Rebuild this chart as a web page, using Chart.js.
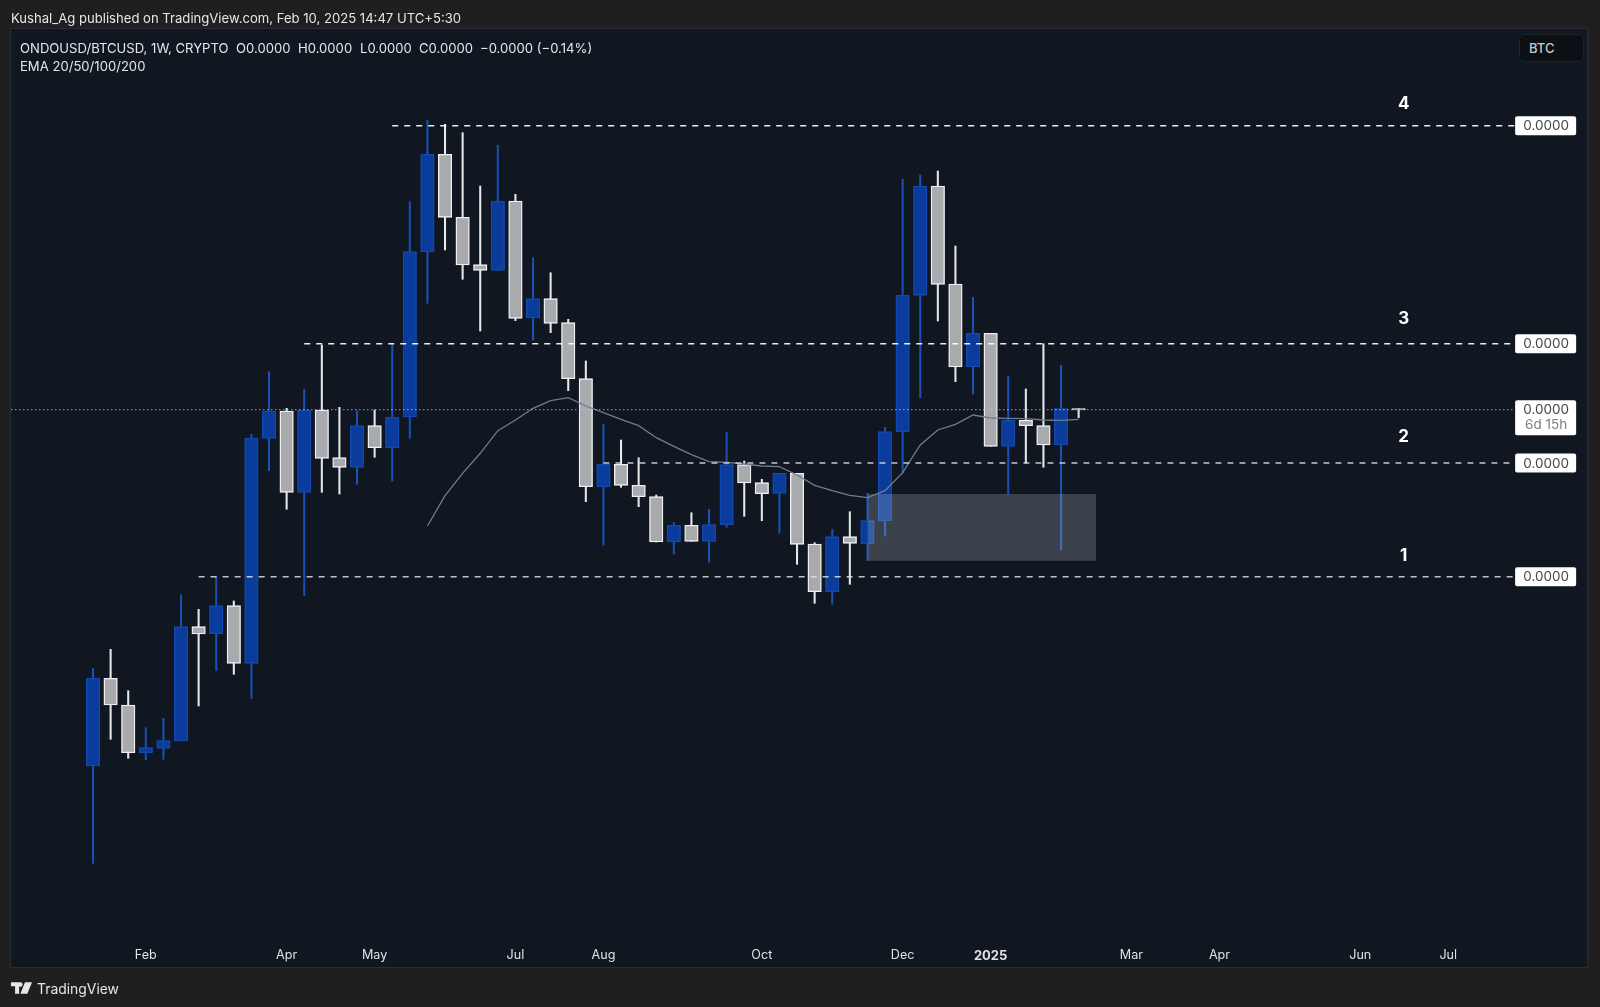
<!DOCTYPE html>
<html lang="en">
<head>
<meta charset="UTF-8">
<title>ONDOUSD/BTCUSD</title>
<script src="https://cdnjs.cloudflare.com/ajax/libs/Chart.js/4.4.1/chart.umd.min.js"></script>
<style>
    html, body { margin: 0; padding: 0; background: #1f1f1f; }
    body { width: 1600px; height: 1007px; position: relative; overflow: hidden; font-family: Inter, Roboto, sans-serif; }
    #panel { position: absolute; left: 11px; top: 29px; width: 1576px; height: 938px; background: #111721; border: 1px solid #2a2d32; box-sizing: content-box; margin: -1px; }
    canvas { position: absolute; left: 0; top: 0; }
    .txt { position: absolute; white-space: pre; color: #e4e6e8; font-size: 13.1px; line-height: 16px; }
    #btc { position: absolute; left: 1519px; top: 34px; width: 65px; height: 28px; box-sizing: border-box; background: #0c0f14; border: 1px solid #1f232a; border-radius: 6px; color: #c8cacc; font-size: 13px; line-height: 27px; padding-left: 9px; font-weight: 500; }
    #logo { position: absolute; left: 11px; top: 982px; }
</style>
</head>
<body>
<div id="panel"></div>
<canvas id="chart" width="1600" height="1007"></canvas>
<div class="txt" style="left:11px;top:10px">Kushal_Ag published on TradingView.com, Feb 10, 2025 14:47 UTC+5:30</div>
<div class="txt" style="left:20px;top:40px">ONDOUSD/BTCUSD, 1W, CRYPTO</div>
<div class="txt" style="left:236px;top:40px">O0.0000</div>
<div class="txt" style="left:298px;top:40px">H0.0000</div>
<div class="txt" style="left:360px;top:40px">L0.0000</div>
<div class="txt" style="left:419px;top:40px">C0.0000</div>
<div class="txt" style="left:480px;top:40px">−0.0000 (−0.14%)</div>
<div class="txt" style="left:20px;top:58px">EMA 20/50/100/200</div>
<div id="btc">BTC</div>
<svg id="logo" width="21" height="12" viewBox="0 0 36 20"><path fill="#e4e6e8" d="M0 0h14v20H7V7H0zM24 0h12l-8 20H16zM16 0a4 4 0 1 1 0 8a4 4 0 1 1 0-8z"/></svg>
<div class="txt" style="left:37px;top:980px;font-size:13.9px;line-height:18px">TradingView</div>

<script>
    // Prices on the chart all read 0.0000, so these are in arbitrary price units
    const opens = [202,289.7,263,215.3,219.7,227,341.3,334.3,362.3,304.7,529.7,557,475.7,558,510.3,500.7,542.3,520.3,551,716,813.7,750.7,703.3,697.7,767,650,669.3,645.3,589.3,481.3,503.7,482.7,471.3,426,442.7,426.7,443.3,503.3,485.3,474.7,494.7,424,376.3,431.3,424.3,447.3,536.3,672.7,782,684,601,634.7,521.7,547.7,542.3,523,559.3];
    const highs = [299.7,318.7,277.3,240.3,249.7,373,358.7,391.3,367,533.7,596.3,559.7,578.7,623,560.7,557.3,558,624,766.3,848,843.7,835.3,782,822.7,773.7,710.3,695.3,648.7,607,543.7,528,510.3,473,445.7,455.3,458.7,535.7,507,488.7,494.7,494.7,425.3,438.7,456.3,474.7,540.7,788.7,793,797,722,670.7,634.7,592,579,624.3,602.7,559.3];
    const lows = [104.7,228.7,209.7,208,208.7,227,262,297.3,293.7,269.7,497.3,458.7,372.3,475.7,474,483.7,510.7,487,529.7,664.7,718,688.7,637,697.7,647.3,628,635.3,577.3,466.3,423,480.7,461.3,426,414,426.7,405.7,440.7,451.7,447.3,434.7,403.7,364.7,363.7,383.7,407.3,432,494.7,570.3,647,586.3,574,521.7,474,505,500.7,418,550.3];
    const closes = [289.7,263,215.3,220.3,227.3,341.3,334,362.3,304.7,530,557,475.7,558,509.7,500.7,542.3,520.3,550.7,716.3,813.7,750.7,703,697.7,767,649.7,669.3,644.7,589.3,481.3,503.7,482.7,471.3,426,442.7,426.7,443.3,503.3,485,474.3,494.7,423.7,376.3,431.3,424.7,447.3,536.3,672.7,782,683.7,601,634.7,521.7,547.7,542.3,523,559.3,558];

    const emaStart = 19;
    const ema = [442,472.3,494.7,514.7,537.3,548,559.7,567.3,570.3,562,555.3,548.7,542.3,530.3,521.7,513.3,506.3,505.7,504,502,501.3,493,482.7,477.3,472.7,470.3,477.3,495.3,523,538,543.7,553,550,549.7,549.3,548,547.7,548.7];

    const levelValues = [391.3,505,624.3,842.3];
    const levelStart = [6,29,12,17];
    const levelNames = ['1','2','3','4'];
    const levelNameValues = [412.5,531.4,649.3,864.5];
    const lastPrice = 558.3;

    const zoneWeeks = [44,57];
    const zoneTop = 474;
    const zoneBottom = 407.3;

    const tickWeeks = [3,11,16,24,29,38,46,51,59,64,72,77];
    const tickLabels = ['Feb','Apr','May','Jul','Aug','Oct','Dec','2025','Mar','Apr','Jun','Jul'];

    const xMin = -4.66, xMax = 84.94, lineEnd = 80.8, nameWeek = 74.47;

    const isUp = i => closes[i] >= opens[i];
    const blueFill = '#0a3c9c', blueEdge = '#1448b0', greyFill = '#a8aaad', whiteEdge = '#eef0f2';

    function levelLine(value, start, color, dash, width) {
        return {
            type: 'line',
            data: [{x: start, y: value}, {x: lineEnd, y: value}],
            borderColor: color,
            borderWidth: width,
            borderDash: dash,
            pointRadius: 0,
            order: 1
        };
    }

    const datasets = [
        {
            // wicks
            data: opens.map((o, i) => ({x: i, y: [lows[i], highs[i]]})),
            barThickness: 1.4,
            grouped: false,
            borderSkipped: false,
            backgroundColor: c => isUp(c.dataIndex) ? '#1a4fb4' : '#e6e8ea',
            order: 6
        },
        {
            // bodies
            data: opens.map((o, i) => ({x: i, y: [o, closes[i]]})),
            barThickness: 13.5,
            grouped: false,
            borderSkipped: false,
            borderWidth: 1.4,
            backgroundColor: c => isUp(c.dataIndex) ? blueFill : greyFill,
            borderColor: c => isUp(c.dataIndex) ? blueEdge : whiteEdge,
            order: 5
        },
        {
            // grey zone
            type: 'line',
            data: [{x: zoneWeeks[0], y: zoneTop}, {x: zoneWeeks[1], y: zoneTop}],
            borderWidth: 0,
            pointRadius: 0,
            fill: {value: zoneBottom},
            backgroundColor: 'rgba(178,184,190,0.27)',
            order: 4
        },
        {
            type: 'line',
            data: ema.map((v, i) => ({x: i + emaStart, y: v})),
            borderColor: '#6f7c91',
            borderWidth: 1.3,
            pointRadius: 0,
            order: 3
        },
        levelLine(lastPrice, xMin, 'rgba(205,210,215,0.75)', [1.5,2.5], 1)
    ];
    levelValues.forEach((v, i) => datasets.push(levelLine(v, levelStart[i], i < 2 ? 'rgba(225,228,230,0.85)' : 'rgba(255,255,255,0.92)', [6,6], 1.5)));

    const priceTags = {
        id: 'priceTags',
        afterDatasetsDraw(chart) {
            const ctx = chart.ctx;
            const y = chart.scales.y;
            const x = chart.scales.x;
            const left = x.getPixelForValue(lineEnd);
            const tagW = 61, tagH = 19;

            ctx.save();
            ctx.textBaseline = 'middle';

            ctx.fillStyle = '#ffffff';
            ctx.font = '700 17px Inter, Roboto, sans-serif';
            ctx.textAlign = 'center';
            levelNames.forEach((n, i) => ctx.fillText(n, x.getPixelForValue(nameWeek), y.getPixelForValue(levelNameValues[i])));

            ctx.font = '13.5px Inter, Roboto, sans-serif';
            levelValues.forEach(v => {
                const py = y.getPixelForValue(v);
                ctx.fillStyle = '#ffffff';
                ctx.beginPath();
                ctx.roundRect(left, py - tagH / 2, tagW, tagH, 2);
                ctx.fill();
                ctx.fillStyle = '#44474c';
                ctx.fillText('0.0000', left + 31, py + 0.5);
            });

            const py = y.getPixelForValue(lastPrice);
            ctx.fillStyle = '#ffffff';
            ctx.beginPath();
            ctx.roundRect(left, py - 9.5, tagW, 35, 2);
            ctx.fill();
            ctx.fillStyle = '#44474c';
            ctx.fillText('0.0000', left + 31, py + 0.5);
            ctx.fillStyle = '#7c7f84';
            ctx.fillText('6d 15h', left + 31, py + 15.5);
            ctx.restore();
        }
    };

    new Chart('chart', {
        type: 'bar',
        data: {datasets: datasets},
        options: {
            responsive: false,
            animation: false,
            layout: {padding: {left: 11, right: 12, top: 29, bottom: 39}},
            plugins: {legend: {display: false}, tooltip: {enabled: false}},
            scales: {
                x: {
                    type: 'linear',
                    offset: false,
                    min: xMin,
                    max: xMax,
                    grid: {display: false},
                    border: {display: false},
                    afterBuildTicks: s => { s.ticks = tickWeeks.map(v => ({value: v})); },
                    afterFit: s => { s.height = 32; },
                    ticks: {
                        autoSkip: false,
                        maxRotation: 0,
                        padding: 4,
                        color: '#dfe1e3',
                        font: c => c.tick && tickLabels[tickWeeks.indexOf(c.tick.value)] === '2025'
                            ? {family: 'Inter', size: 13, weight: 'bold'}
                            : {family: 'Inter', size: 12.6},
                        callback: v => tickLabels[tickWeeks.indexOf(v)]
                    }
                },
                y: {
                    display: false,
                    min: 32,
                    max: 939
                }
            }
        },
        plugins: [priceTags]
    });
</script>
</body>
</html>
